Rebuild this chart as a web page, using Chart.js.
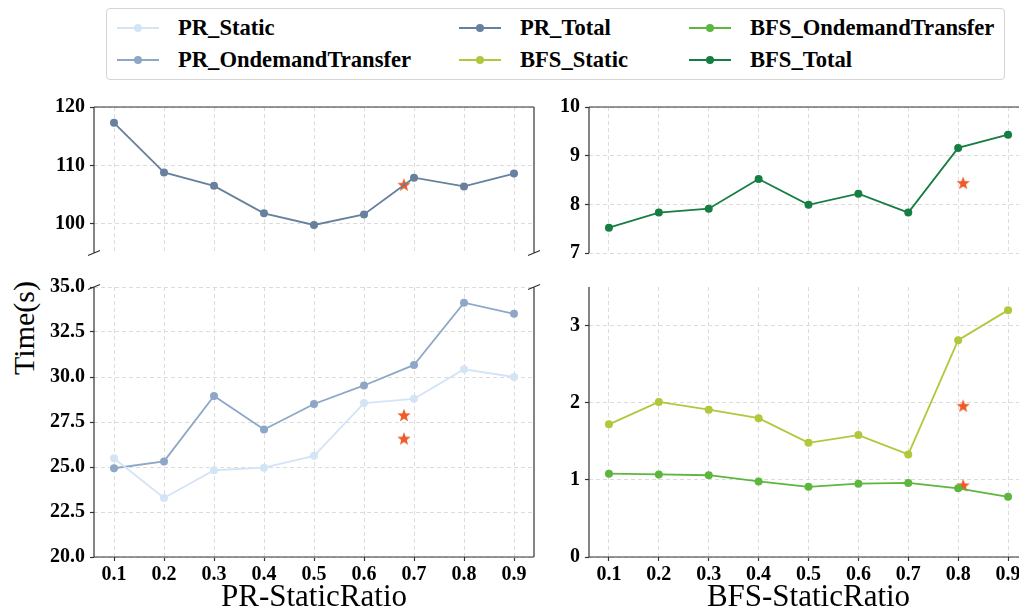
<!DOCTYPE html>
<html>
<head>
<meta charset="utf-8">
<script src="https://cdn.jsdelivr.net/npm/chart.js@4.4.0/dist/chart.umd.min.js"></script>
<style>
  html, body { margin: 0; padding: 0; width: 1019px; height: 615px; overflow: hidden; background: #fff; }
  canvas { position: absolute; }
  #legend { position: absolute; left: 106px; top: 8px; width: 899px; height: 72px; border: 1px solid #d4d4d4; border-radius: 4px; box-sizing: border-box; }
  .item { position: absolute; height: 24px; width: 300px; font: bold 22.6px "Liberation Serif"; line-height: 24px; white-space: nowrap; color: #000; }
  .item .ln { position: absolute; left: 0; top: 11px; width: 42px; height: 2px; }
  .item .dt { position: absolute; left: 17px; top: 8px; width: 8px; height: 8px; border-radius: 50%; }
  .item span { position: absolute; left: 61px; top: 0; }
  #ylabel { position: absolute; left: 24px; top: 328px; transform: translate(-50%, -50%) rotate(-90deg); font: 30px "Liberation Serif"; white-space: nowrap; }
</style>
</head>
<body>
<div id="legend"></div>
<div id="ylabel">Time(s)</div>
<canvas id="lt" width="560" height="180" style="left:0;top:90px"></canvas>
<canvas id="lb" width="560" height="350" style="left:0;top:270px"></canvas>
<canvas id="rt" width="520" height="180" style="left:540px;top:90px"></canvas>
<canvas id="rb" width="520" height="350" style="left:540px;top:270px"></canvas>
<script>
// static ratio on the x axis
const ratios = [0.1, 0.2, 0.3, 0.4, 0.5, 0.6, 0.7, 0.8, 0.9];
const ratioLabels = ['0.1', '0.2', '0.3', '0.4', '0.5', '0.6', '0.7', '0.8', '0.9'];

// PR series (seconds)
const prStatic = [25.49, 23.28, 24.82, 24.96, 25.62, 28.55, 28.79, 30.43, 30.00];
const prOndemand = [24.93, 25.31, 28.95, 27.08, 28.50, 29.53, 30.67, 34.13, 33.51];
const prTotal = [117.3, 108.8, 106.5, 101.8, 99.8, 101.6, 107.9, 106.4, 108.6];

// BFS series (seconds)
const bfsOndemand = [1.08, 1.07, 1.06, 0.98, 0.91, 0.95, 0.96, 0.89, 0.78];
const bfsStatic = [1.72, 2.01, 1.91, 1.80, 1.48, 1.58, 1.33, 2.81, 3.20];
const bfsTotal = [7.52, 7.83, 7.91, 8.52, 7.99, 8.22, 7.83, 9.16, 9.43];

// star markers
const prStarX = 0.68;
const prStarTop = [106.7];
const prStarBottom = [27.88, 26.58];
const bfsStarX = 0.81;
const bfsStarTop = [8.44];
const bfsStarBottom = [1.96, 0.93];

// y ticks
const ltTicks = [100, 110, 120];
const ltLabels = ['100', '110', '120'];
const lbTicks = [20, 22.5, 25, 27.5, 30, 32.5, 35];
const lbLabels = ['20.0', '22.5', '25.0', '27.5', '30.0', '32.5', '35.0'];
const rtTicks = [7, 8, 9, 10];
const rtLabels = ['7', '8', '9', '10'];
const rbTicks = [0, 1, 2, 3];
const rbLabels = ['0', '1', '2', '3'];

const colors = {
  PR_Static: '#d4e4f7',
  PR_OndemandTransfer: '#8ea7c7',
  PR_Total: '#66809d',
  BFS_Static: '#afc83c',
  BFS_OndemandTransfer: '#5db63e',
  BFS_Total: '#167e42'
};
const starColor = '#ef5b26';

// legend (matplotlib column order)
const legendCells = [
  ['PR_Static', 10, 7], ['PR_OndemandTransfer', 10, 39],
  ['PR_Total', 352, 7], ['BFS_Static', 352, 39],
  ['BFS_OndemandTransfer', 582, 7], ['BFS_Total', 582, 39]
];
const legend = document.getElementById('legend');
legendCells.forEach(([name, left, top]) => {
  const d = document.createElement('div');
  d.className = 'item';
  d.style.left = left + 'px';
  d.style.top = top + 'px';
  d.innerHTML = `<div class="ln" style="background:${colors[name]}"></div><div class="dt" style="background:${colors[name]}"></div><span>${name}</span>`;
  legend.appendChild(d);
});

// filled 5 point star for the marker
const star = document.createElement('canvas');
star.width = 16; star.height = 16;
(function () {
  const c = star.getContext('2d');
  c.fillStyle = starColor;
  c.beginPath();
  for (let i = 0; i < 10; i++) {
    const r = i % 2 === 0 ? 7 : 2.9;
    const a = -Math.PI / 2 + i * Math.PI / 5;
    c.lineTo(8 + r * Math.cos(a), 8.5 + r * Math.sin(a));
  }
  c.closePath();
  c.fill();
})();

// spines + broken axis marks
const framePlugin = {
  id: 'frame',
  afterDatasetsDraw(chart, args, opts) {
    const { ctx, chartArea: a } = chart;
    ctx.save();
    ctx.strokeStyle = '#333';
    ctx.lineWidth = 1.2;
    ctx.beginPath();
    if (opts.top) { ctx.moveTo(a.left, a.top); ctx.lineTo(a.right, a.top); }
    if (opts.bottom) { ctx.moveTo(a.left, a.bottom); ctx.lineTo(a.right, a.bottom); }
    ctx.moveTo(a.left, a.top); ctx.lineTo(a.left, a.bottom);
    ctx.moveTo(a.right, a.top); ctx.lineTo(a.right, a.bottom);
    if (opts.brk) {
      const y = opts.brk === 'bottom' ? a.bottom : a.top;
      const xs = opts.brkLeft ? [a.left, a.right] : [a.right];
      xs.forEach(x => { ctx.moveTo(x - 6, y + 2.5); ctx.lineTo(x + 6, y - 2.5); });
    }
    ctx.stroke();
    ctx.restore();
  }
};

Chart.defaults.font.family = 'Liberation Serif';
Chart.defaults.color = '#000';

const tickFont = { family: 'Liberation Serif', size: 20, weight: 'bold' };
const gridCol = '#dcdcdc';

function lineSet(ys, name) {
  return {
    data: ratios.map((x, i) => ({ x: x, y: ys[i] })),
    borderColor: colors[name],
    backgroundColor: colors[name],
    borderWidth: 1.8,
    pointRadius: 4,
    pointHoverRadius: 4,
    pointBorderWidth: 0,
    tension: 0
  };
}
function starSet(x, ys) {
  return {
    data: ys.map(y => ({ x: x, y: y })),
    showLine: false,
    pointStyle: star,
    pointRadius: 7
  };
}

function makeChart(id, datasets, o) {
  return new Chart(document.getElementById(id), {
    type: 'line',
    data: { datasets: datasets },
    plugins: [framePlugin],
    options: {
      responsive: false,
      animation: false,
      layout: { padding: o.padding },
      plugins: {
        legend: { display: false },
        tooltip: { enabled: false },
        frame: o.frame
      },
      scales: {
        x: {
          type: 'linear',
          min: 0.06,
          max: 0.94,
          afterBuildTicks: s => { s.ticks = ratios.map(v => ({ value: v })); },
          afterFit: s => { s.height = o.xHeight; },
          ticks: {
            display: o.xTicks,
            autoSkip: false,
            maxRotation: 0,
            padding: 2,
            font: tickFont,
            callback: (v, i) => ratioLabels[i]
          },
          grid: { color: gridCol, lineWidth: 1, drawTicks: o.xTicks, tickLength: 4, tickColor: '#333', tickWidth: 1.2, tickBorderDash: [] },
          border: { display: false, dash: [4, 3] },
          title: { display: !!o.xTitle, text: o.xTitle, font: { family: 'Liberation Serif', size: 31 }, padding: { top: 0, bottom: 4 } }
        },
        y: {
          min: o.yMin,
          max: o.yMax,
          afterBuildTicks: s => { s.ticks = o.yTicks.map(v => ({ value: v })); },
          afterFit: s => { s.width = o.yWidth; },
          ticks: { padding: 5, font: tickFont, callback: (v, i) => o.yLabels[i] },
          grid: { color: gridCol, lineWidth: 1, tickLength: 4, tickColor: '#333', tickWidth: 1.2, tickBorderDash: [] },
          border: { display: false, dash: [4, 3] }
        }
      }
    }
  });
}

makeChart('lt', [lineSet(prTotal, 'PR_Total'), starSet(prStarX, prStarTop)], {
  padding: { left: 0, right: 26, top: 12, bottom: 10 },
  xHeight: 0, xTicks: false, yWidth: 94,
  yMin: 95, yMax: 120, yTicks: ltTicks, yLabels: ltLabels,
  frame: { top: true, bottom: false, brk: 'bottom', brkLeft: true }
});
makeChart('lb', [lineSet(prStatic, 'PR_Static'), lineSet(prOndemand, 'PR_OndemandTransfer'), starSet(prStarX, prStarBottom)], {
  padding: { left: 0, right: 26, top: 11, bottom: 0 },
  xHeight: 63, xTicks: true, xTitle: 'PR-StaticRatio', yWidth: 94,
  yMin: 20, yMax: 35, yTicks: lbTicks, yLabels: lbLabels,
  frame: { top: false, bottom: true, brk: 'top', brkLeft: true }
});
makeChart('rt', [lineSet(bfsTotal, 'BFS_Total'), starSet(bfsStarX, bfsStarTop)], {
  padding: { left: 0, right: 32, top: 12, bottom: 10 },
  xHeight: 0, xTicks: false, yWidth: 49,
  yMin: 7, yMax: 10, yTicks: rtTicks, yLabels: rtLabels,
  frame: { top: true, bottom: false, brk: 'bottom', brkLeft: false }
});
makeChart('rb', [lineSet(bfsStatic, 'BFS_Static'), lineSet(bfsOndemand, 'BFS_OndemandTransfer'), starSet(bfsStarX, bfsStarBottom)], {
  padding: { left: 0, right: 32, top: 11, bottom: 0 },
  xHeight: 63, xTicks: true, xTitle: 'BFS-StaticRatio', yWidth: 49,
  yMin: 0, yMax: 3.5, yTicks: rbTicks, yLabels: rbLabels,
  frame: { top: false, bottom: true, brk: 'top', brkLeft: false }
});
</script>
</body>
</html>
